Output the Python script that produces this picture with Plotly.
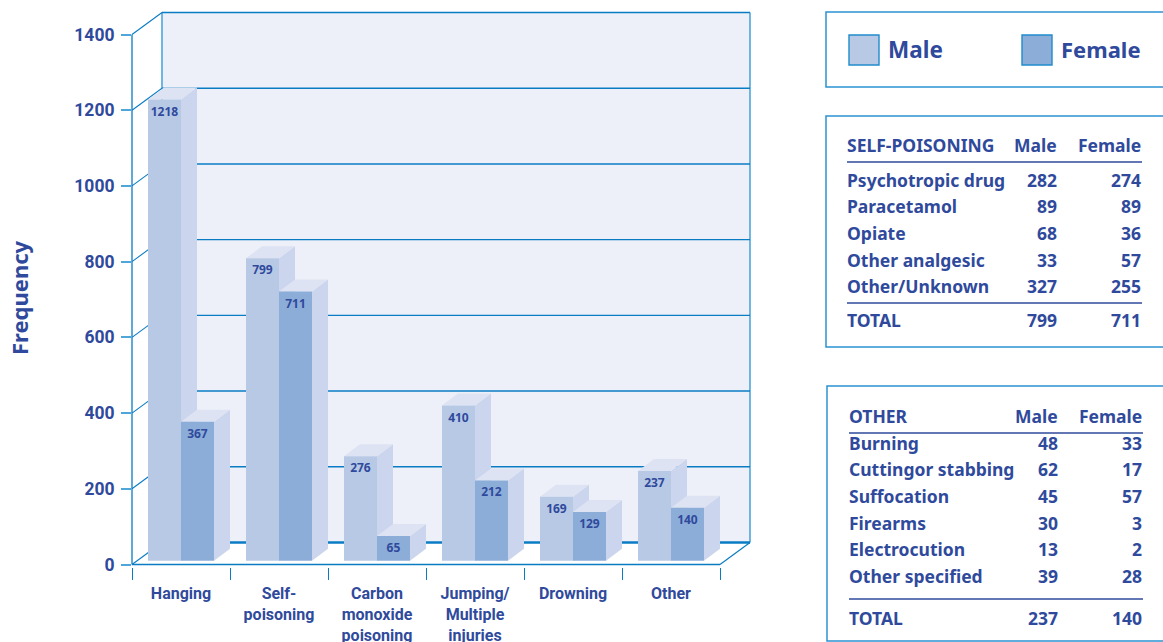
import plotly.graph_objects as go

categories = ["Hanging", "Self-<br>poisoning", "Carbon<br>monoxide<br>poisoning",
              "Jumping/<br>Multiple<br>injuries", "Drowning", "Other"]
male = [1218, 799, 276, 410, 169, 237]
female = [367, 711, 65, 212, 129, 140]
y_ticks = [0, 200, 400, 600, 800, 1000, 1200, 1400]

sp_title = "SELF-POISONING"
sp_rows = ["Psychotropic drug", "Paracetamol", "Opiate", "Other analgesic", "Other/Unknown"]
sp_male = [282, 89, 68, 33, 327]
sp_female = [274, 89, 36, 57, 255]
sp_total = [799, 711]

ot_title = "OTHER"
ot_rows = ["Burning", "Cuttingor stabbing", "Suffocation", "Firearms", "Electrocution", "Other specified"]
ot_male = [48, 62, 45, 30, 13, 39]
ot_female = [33, 17, 57, 3, 2, 28]
ot_total = [237, 140]

TXT = "#2f4a9c"
LINE = "#0a7cc4"
LIGHT = "#4fa6da"
C_M, C_F, C_SIDE, C_TOP, C_WALL = "#b8c9e6", "#8dadd9", "#cbd5ed", "#dde3f2", "#edf0f9"

WIN_W, WIN_H = 1163, 642
PL, PR, PT, PB = 132, 753, 10, 567   # plot area in window pixels
PX_CAT = 98.0
PX_VAL = 530 / 1400
Y0_PX = 564.5
WALL_DX, WALL_DY = 30 / PX_CAT, 22 / PX_VAL
BAR_DX, BAR_DY = 16 / PX_CAT, 12 / PX_VAL
BAR_W = 33 / PX_CAT
LIFT = 10

x_rng = [-0.5, -0.5 + (PR - PL) / PX_CAT]
y_rng = [(Y0_PX - PB) / PX_VAL, (Y0_PX - PT) / PX_VAL]
pos = list(range(len(categories)))
bounds = [p - 0.5 for p in pos] + [pos[-1] + 0.5]
x_left, x_right = bounds[0], bounds[-1]


def px(v):
    return (v - PL) / (PR - PL)


def py(v):
    return 1 - (v - PT) / (PB - PT)


def poly(points, fill):
    d = "M " + " L ".join(f"{a},{b}" for a, b in points) + " Z"
    return dict(type="path", path=d, xref="x", yref="y", fillcolor=fill,
                line=dict(width=0), layer="below")


def seg(x0, y0, x1, y1, color=LINE, width=1.3):
    return dict(type="line", xref="x", yref="y", x0=x0, y0=y0, x1=x1, y1=y1,
                line=dict(color=color, width=width), layer="below")


shapes = []
top = y_ticks[-1] + WALL_DY
shapes.append(poly([(x_left + WALL_DX, WALL_DY), (x_right + WALL_DX, WALL_DY),
                    (x_right + WALL_DX, top), (x_left + WALL_DX, top)], C_WALL))
shapes.append(seg(x_left + WALL_DX, WALL_DY, x_left + WALL_DX, top, LIGHT, 1.6))
shapes.append(seg(x_right + WALL_DX, WALL_DY, x_right + WALL_DX, top, LIGHT, 1.6))
for t in y_ticks:
    shapes.append(seg(x_left + WALL_DX, t + WALL_DY, x_right + WALL_DX, t + WALL_DY,
                      LINE, 2.4 if t == 0 else 1.4))
    shapes.append(seg(x_left, t, x_left + WALL_DX, t + WALL_DY, LINE, 1.1))
shapes.append(seg(x_right, 0, x_right + WALL_DX, WALL_DY, LINE, 1.2))
shapes.append(seg(x_left, 0, x_right, 0, LINE, 1.6))
shapes.append(dict(type="line", xref="paper", yref="y", x0=0, x1=0, y0=0, y1=y_ticks[-1],
                   line=dict(color=LINE, width=1.3), layer="below"))
for series, shift in ((male, -BAR_W), (female, 0.0)):
    for p, v in zip(pos, series):
        x0, x1 = p + shift, p + shift + BAR_W
        y0, y1 = LIFT, v + LIFT
        shapes.append(poly([(x1, y0), (x1 + BAR_DX, y0 + BAR_DY),
                            (x1 + BAR_DX, y1 + BAR_DY), (x1, y1)], C_SIDE))
        shapes.append(poly([(x0, y1), (x1, y1), (x1 + BAR_DX, y1 + BAR_DY),
                            (x0 + BAR_DX, y1 + BAR_DY)], C_TOP))


def panel(x0, y0, y1):
    shapes.append(dict(type="rect", xref="paper", yref="paper", x0=px(x0), x1=px(WIN_W + 20),
                       y0=py(y1), y1=py(y0), line=dict(color="#2b93d2", width=1.5)))


def rule(x0, x1, y):
    shapes.append(dict(type="line", xref="paper", yref="paper", x0=px(x0), x1=px(x1),
                       y0=py(y), y1=py(y), line=dict(color=TXT, width=1.3)))


def swatch(x0, x1, y0, y1, fill):
    shapes.append(dict(type="rect", xref="paper", yref="paper", x0=px(x0), x1=px(x1),
                       y0=py(y1), y1=py(y0), fillcolor=fill, line=dict(color="#1f8ccb", width=1.4)))


annotations = []
PANEL_FONT = "Noto Sans"


def label(text, x, y, anchor="left", size=17.5):
    annotations.append(dict(text=f"<b>{text}</b>", xref="paper", yref="paper",
                            x=px(x - 1 if anchor == "left" else x + 1), y=py(y - 1),
                            xanchor=anchor, yanchor="middle", showarrow=False, borderpad=0,
                            font=dict(family=PANEL_FONT, size=size, color=TXT)))


panel(826, 12, 87)
panel(826, 116, 347)
panel(827, 386, 641)
swatch(849, 879, 35, 65, C_M)
swatch(1022, 1052, 35, 65, C_F)
label("Male", 888, 50, size=22.5)
label("Female", 1061, 50, size=22)


def table(title, rows, vm, vf, total, xl, xm, xf, y_head, y_rule, y_rows, y_rule2, y_total):
    label(title, xl, y_head)
    label("Male", xm, y_head, "right")
    label("Female", xf, y_head, "right")
    rule(xl, xf + 1, y_rule)
    for r, a, b, y in zip(rows, vm, vf, y_rows):
        label(r, xl, y)
        label(a, xm, y, "right")
        label(b, xf, y, "right")
    rule(xl, xf + 1, y_rule2)
    label("TOTAL", xl, y_total)
    label(total[0], xm, y_total, "right")
    label(total[1], xf, y_total, "right")


table(sp_title, sp_rows, sp_male, sp_female, sp_total, 847, 1057, 1141, 146, 162,
      [181, 207, 234, 261, 287], 303, 321)
table(ot_title, ot_rows, ot_male, ot_female, ot_total, 849, 1058, 1142, 417, 433,
      [444, 470, 497, 524, 550, 577], 599, 619)

annotations.append(dict(text="<b>Frequency</b>", xref="paper", yref="paper", x=px(19), y=py(298),
                        textangle=-90, xanchor="center", yanchor="middle", showarrow=False,
                        font=dict(family=PANEL_FONT, size=22, color=TXT)))

fig = go.Figure()
for name, vals, col in (("Male", male, C_M), ("Female", female, C_F)):
    fig.add_trace(go.Bar(x=pos, y=vals, base=LIFT, name=name, marker=dict(color=col, line=dict(width=0)),
                         text=vals, textposition="inside", insidetextanchor="end", textangle=0,
                         constraintext="none",
                         texttemplate="<b>%{text}</b>",
                         textfont=dict(family="Noto Sans", size=12, color=TXT)))

fig.update_layout(
    width=WIN_W, height=WIN_H, autosize=False,
    margin=dict(l=PL, r=WIN_W - PR, t=PT, b=WIN_H - PB, pad=0),
    paper_bgcolor="white", plot_bgcolor="white",
    barmode="group", bargap=1 - 2 * BAR_W, bargroupgap=0, showlegend=False,
    shapes=shapes, annotations=annotations,
    font=dict(family="Roboto", color=TXT),
    xaxis=dict(range=x_rng, tickmode="array", tickvals=pos, ticktext=categories, tickangle=0,
               automargin=False, ticks="", showgrid=False, zeroline=False, showline=False,
               ticklabelstandoff=15,
               tickfont=dict(family="Roboto", size=16, color=TXT, weight="bold"),
               minor=dict(tickmode="array", tickvals=bounds, ticks="outside", ticklen=12,
                          tickcolor=LINE, tickwidth=1.3, showgrid=False)),
    yaxis=dict(range=y_rng, tickmode="array", tickvals=y_ticks, ticks="outside", ticklen=10,
               automargin=False, tickcolor=LIGHT, tickwidth=1.6, showgrid=False,
               zeroline=False, showline=False, ticklabelstandoff=3,
               tickfont=dict(family="Roboto", size=17.5, color=TXT, weight="bold")),
)
fig.write_html("out.html", config={"displayModeBar": False},
               post_script="document.body.style.margin='0';document.documentElement.style.overflow='hidden';")
